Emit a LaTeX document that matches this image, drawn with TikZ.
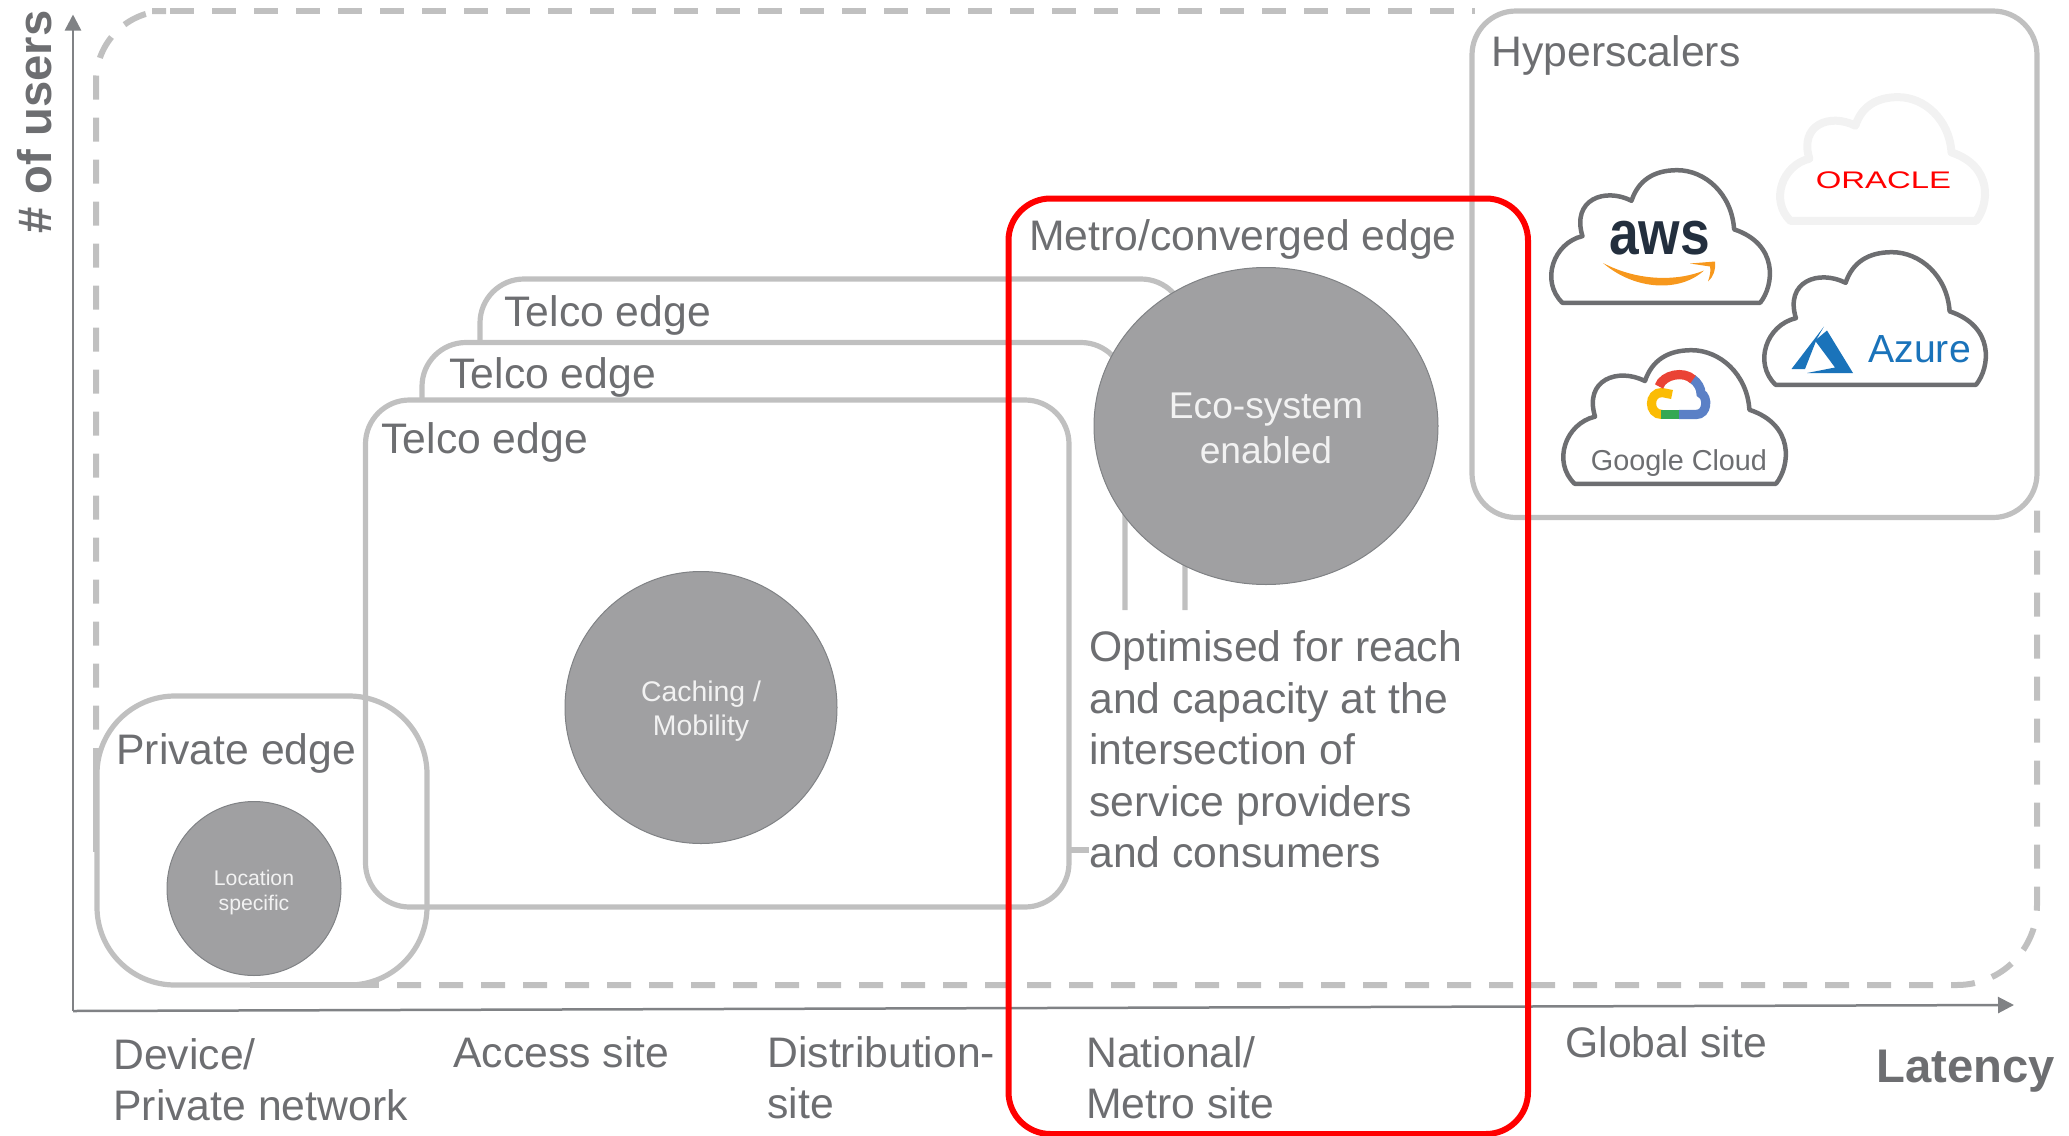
\documentclass[tikz,border=0pt]{standalone}
\usepackage{fontspec}
\setmainfont{Liberation Sans}
\usetikzlibrary{arrows.meta,shapes.geometric}
\definecolor{txt}{HTML}{6D6E71}
\definecolor{lite}{HTML}{C0C0C0}
\definecolor{axisc}{HTML}{808285}
\definecolor{disc}{HTML}{A0A0A2}
\definecolor{azureb}{HTML}{1A73BA}
\definecolor{awsd}{HTML}{232F3E}
\definecolor{awso}{HTML}{F7981D}
\definecolor{gred}{HTML}{EA4335}
\definecolor{gblue}{HTML}{5B80C6}
\definecolor{ggreen}{HTML}{34A853}
\definecolor{gyellow}{HTML}{FBBC05}
\newcommand{\cloudshape}[6]{%
  \begin{scope}[shift={(#1,#2)},x=#3/200*1pt,y=-#4/200*1pt]
    \draw[line width=#6*0.5pt,draw=#5,line join=round]
      (6,98) -- (94.7,98) .. controls (101,85) and (103,55) .. (83,44)
      .. controls (82,18) and (70,0.5) .. (57.5,0.5)
      .. controls (47,0.5) and (40,8) .. (37,23)
      .. controls (25,13) and (10,22) .. (15,49)
      .. controls (2,54) and (-4,82) .. (6,98) -- cycle;
  \end{scope}}
\tikzset{
  box/.style={draw=lite,line width=2.6pt},
  dashbox/.style={draw=lite,line width=3pt,dash pattern=on 12pt off 9pt},
  axisline/.style={draw=axisc,line width=1.25pt,-{Triangle[length=8pt,width=8pt,fill=axisc]}},
  lbl/.style={text=txt,inner sep=0pt,anchor=west,align=left,font=\fontsize{21.35}{25.7}\selectfont},
  axlbl/.style={text=txt,inner sep=0pt,font=\fontsize{23.6}{27}\selectfont\bfseries},
  disk/.style={shape=ellipse,draw=axisc,line width=0.5pt,fill=disc,inner sep=0pt,text=white!95!black,align=center},
}
\begin{document}
\begin{tikzpicture}[x=0.5pt,y=-0.5pt]
\useasboundingbox (0,-1.5) rectangle (2069,1134.5);
% outer dashed zone, in three runs that pass behind the solid boxes
\draw[dashbox,rounded corners=35pt] (96,728) -- (96,9.5) -- (152,9.5);
\draw[dashbox] (170,9.5) -- (1475,9.5);
\draw[dashbox,rounded corners=40pt] (397,983.5) -- (2037,983.5) -- (2037,509);
\draw[draw=lite,line width=3pt] (250,983.5) -- (379,983.5);
\draw[draw=lite,line width=3pt] (96,746) -- (96,850);
% axes
\coordinate (origin) at (73,1009.5);
\coordinate (ytip) at (73,13);
\coordinate (xtip) at (2014,1003.5);
\draw[axisline] (origin) -- (ytip);
\draw[axisline] (origin) -- (xtip);
% boxes
\draw[box,rounded corners=22pt] (1472,9.5) rectangle (2037,516);
\draw[box,rounded corners=22pt] (480,342) -- (480,277.5) -- (1185,277.5) -- (1185,608.5);
\draw[box,rounded corners=22pt] (422,399) -- (422,341) -- (1125,341) -- (1125,608.5);
\draw[box,rounded corners=22pt] (365.5,398.5) rectangle (1069,905.5);
\draw[box,rounded corners=39pt] (97,694.5) rectangle (427,983.5);
\coordinate (stubA) at (1069,848.5);
\coordinate (stubB) at (1089,848.5);
\draw[box] (stubA) -- (stubB);
% discs
\node[disk,minimum width=172pt,minimum height=158.5pt] (eco) at (1266,424.5) {};
\node[inner sep=0pt,align=center,text=white!95!black,font=\fontsize{18.6}{22.5}\selectfont] (ecot) at (1266,426.5) {Eco-system\\enabled};
\node[disk,minimum width=136pt,minimum height=136pt] (cache) at (701,706) {};
\node[inner sep=0pt,align=center,text=white!95!black,font=\fontsize{14.2}{17}\selectfont] (cachet) at (701,710) {Caching /\\Mobility};
\node[disk,minimum width=87pt,minimum height=87pt] (loc) at (254,887) {};
\node[inner sep=0pt,align=center,text=white!95!black,font=\fontsize{10.6}{12.5}\selectfont] (loct) at (254,891) {Location\\specific};
% clouds
\cloudshape{1778}{95}{209}{127}{black!5}{8}
\cloudshape{1549}{168}{223}{136}{txt}{4.5}
\cloudshape{1762}{250}{226}{136}{txt}{4.5}
\cloudshape{1561}{348}{227}{137}{txt}{4.5}
% ORACLE
\node[inner sep=0pt,text=red,xscale=1.37,transform shape,font=\fontsize{12}{14}\selectfont] (oracle) at (1883.5,178.5) {ORACLE};
% AWS
\node[inner sep=0pt,text=awsd,xscale=0.86,transform shape,font=\fontsize{31}{34}\selectfont\bfseries] (aws) at (1659.5,237) {aws};
\fill[awso] (1603,261.5) .. controls (1635,289) and (1680,291) .. (1704,269) .. controls (1680,279) and (1640,281) .. (1603,261.5) -- cycle;
\fill[awso] (1690,262) -- (1715,260) .. controls (1716,268) and (1713,276) .. (1708,280) .. controls (1710,274) and (1711,269) .. (1710,265) -- cycle;
% Azure
\fill[azureb] (1824,325) -- (1791.5,367.5) -- (1805,367.5) -- (1817,337) -- cycle;
\fill[azureb] (1827,329) -- (1853,371.5) -- (1807,371.5) -- (1835,366) -- (1815,339) -- cycle;
\node[inner sep=0pt,anchor=west,text=azureb,font=\fontsize{19.6}{22}\selectfont] (azure) at (1868,348) {Azure};
% Google Cloud
\begin{scope}[line width=4.6pt]
\draw[gyellow] (1662,413) .. controls (1648,413) and (1648,391) .. (1662,391) -- (1672,393);
\draw[ggreen] (1661,413) -- (1679,413);
\draw[gblue] (1679,413) -- (1696,413) .. controls (1708,413) and (1708,395) .. (1701,392) .. controls (1701,387) and (1698,381) .. (1692,377);
\draw[gred] (1659,385) .. controls (1663,373) and (1684,369) .. (1693,378);
\end{scope}
\node[inner sep=0pt,text=txt,font=\fontsize{14.4}{17}\selectfont] (gcloud) at (1679,462) {Google Cloud};
% labels
\node[lbl] (hyp) at (1491,53.5) {Hyperscalers};
\node[lbl] (metro) at (1029,237.5) {Metro/converged edge};
\node[lbl] (t3) at (504,313.5) {Telco edge};
\node[lbl] (t2) at (449,375.5) {Telco edge};
\node[lbl] (t1) at (381,440.5) {Telco edge};
\node[lbl] (priv) at (116,751.5) {Private edge};
\node[lbl] (opt) at (1089,748) {Optimised for reach\\and capacity at the\\intersection of\\service providers\\and consumers};
\node[lbl] (dev) at (113,1078.5) {Device/\\Private network};
\node[lbl] (acc) at (453,1050.5) {Access site};
\node[lbl] (dist) at (767,1076.5) {Distribution-\\site};
\node[lbl] (nat) at (1086,1076.5) {National/\\Metro site};
\node[lbl] (glob) at (1565,1040.5) {Global site};
\node[axlbl,anchor=west] (lat) at (1876,1069.5) {Latency};
\node[axlbl,rotate=90,anchor=west] (users) at (35,232.5) {\# of users};
% highlight
\draw[draw=red,line width=3pt,rounded corners=21pt] (1008.5,197) rectangle (1528,1132.5);
\end{tikzpicture}
\end{document}
